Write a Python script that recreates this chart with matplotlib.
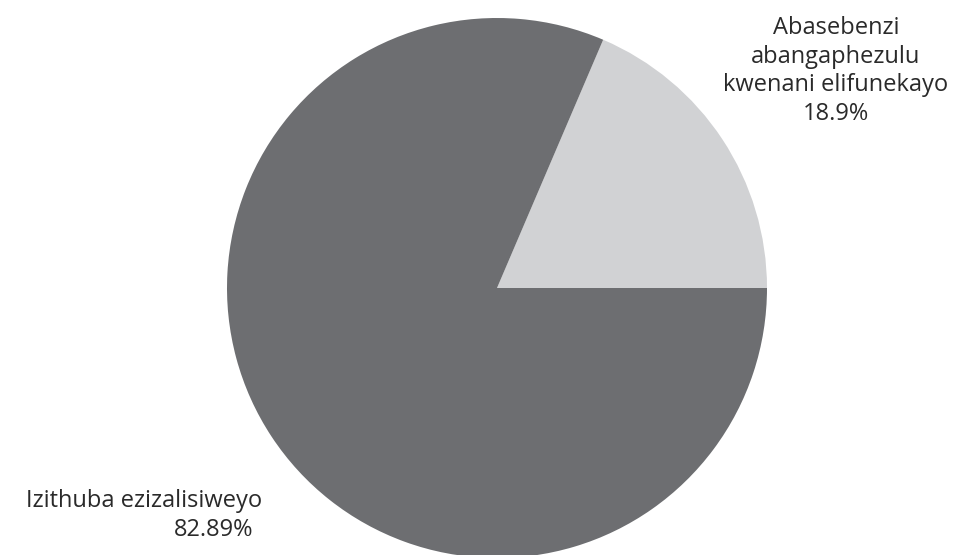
import matplotlib
matplotlib.use("Agg")
import matplotlib.pyplot as plt

plt.rcParams['font.family'] = ['Open Sans', 'DejaVu Sans']

# izingxenye zephayi
amagama = ["Abasebenzi\nabangaphezulu\nkwenani elifunekayo", "Izithuba ezizalisiweyo"]
amanani = [18.9, 82.89]
imibala = ["#d1d2d4", "#6d6e71"]

fig = plt.figure(figsize=(9.6, 5.55), dpi=100)
ax = fig.add_axes([227 / 960, -3 / 555, 540 / 960, 540 / 555])

ax.pie(amanani, colors=imibala, startangle=0, counterclock=True,
       radius=1, wedgeprops=dict(linewidth=0))
ax.set_xlim(-1, 1)
ax.set_ylim(-1, 1)
ax.set_aspect('equal')
ax.axis('off')

umbhalo = "#2a2a2a"
fig.text(836 / 960, 1 - 71 / 555, f"{amagama[0]}\n{amanani[0]}%",
         ha='center', va='center', fontsize=17, color=umbhalo,
         linespacing=1.25)
fig.text(262 / 960, 1 - 501 / 555, amagama[1],
         ha='right', va='center', fontsize=17, color=umbhalo)
fig.text(253 / 960, 1 - 530 / 555, f"{amanani[1]}%",
         ha='right', va='center', fontsize=17, color=umbhalo)

fig.savefig("out.png", dpi=100)
